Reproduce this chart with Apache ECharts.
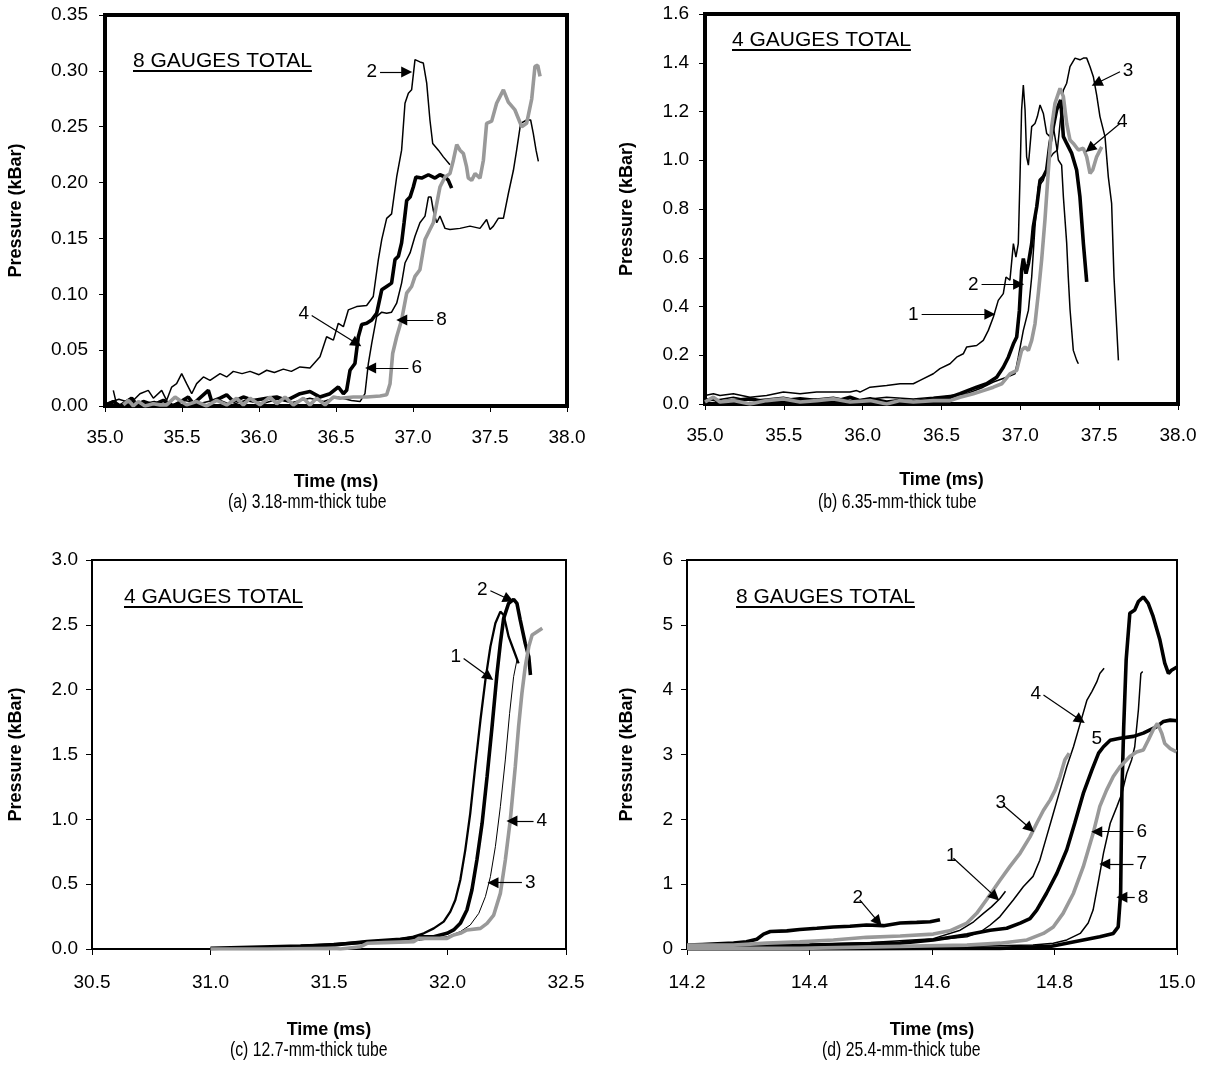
<!DOCTYPE html>
<html>
<head>
<meta charset="utf-8">
<script src="https://cdn.jsdelivr.net/npm/echarts@6/dist/echarts.min.js"></script>
<style>
html,body{margin:0;padding:0;background:#fff}
#chart{width:1207px;height:1076px}
</style>
</head>
<body>
<div id="chart"></div>
<script>
// ---------- pressure traces [time (ms), pressure (kBar)] ----------

// (a) 3.18-mm-thick tube
var tubeA_g2 = [
  [35.054,0.014],[35.076,0.001],[35.162,0.002],[35.227,0.011],[35.281,0.014],[35.314,0.007],[35.368,0.014],[35.40,0.005],
  [35.433,0.017],[35.465,0.020],[35.498,0.029],[35.53,0.020],[35.563,0.011],[35.595,0.020],[35.639,0.026],[35.682,0.023],
  [35.747,0.029],[35.79,0.026],[35.833,0.031],[35.89,0.029],[35.942,0.031],[36.0,0.028],[36.05,0.032],[36.1,0.030],
  [36.158,0.033],[36.21,0.031],[36.266,0.035],[36.331,0.034],[36.396,0.044],[36.439,0.062],[36.483,0.059],[36.515,0.074],
  [36.548,0.071],[36.58,0.086],[36.634,0.089],[36.699,0.090],[36.742,0.098],[36.775,0.131],[36.797,0.149],[36.829,0.168],
  [36.861,0.172],[36.894,0.205],[36.926,0.229],[36.948,0.271],[36.97,0.280],[36.991,0.283],[37.013,0.310],[37.045,0.308],
  [37.067,0.307],[37.089,0.289],[37.11,0.256],[37.128,0.235],[37.165,0.229],[37.197,0.223],[37.24,0.216]
];
var tubeA_g4 = [
  [35.011,0.001],[35.054,0.004],[35.097,0.0],[35.173,0.007],[35.206,0.001],[35.249,0.004],[35.314,0.001],[35.379,0.005],
  [35.444,0.0],[35.541,0.008],[35.574,0.002],[35.671,0.014],[35.693,0.004],[35.747,0.007],[35.79,0.010],[35.833,0.004],
  [35.898,0.008],[35.963,0.005],[36.05,0.007],[36.115,0.008],[36.18,0.005],[36.266,0.011],[36.331,0.013],[36.396,0.008],
  [36.461,0.011],[36.515,0.017],[36.548,0.011],[36.569,0.014],[36.591,0.032],[36.623,0.038],[36.645,0.062],[36.667,0.073],
  [36.699,0.074],[36.732,0.077],[36.764,0.083],[36.797,0.104],[36.829,0.107],[36.861,0.110],[36.883,0.131],[36.905,0.134],
  [36.926,0.146],[36.942,0.164],[36.959,0.184],[36.981,0.187],[37.002,0.196],[37.019,0.205],[37.056,0.204],[37.1,0.207],
  [37.143,0.204],[37.175,0.207],[37.208,0.205],[37.229,0.202],[37.251,0.195]
];
var tubeA_g6 = [
  [35.0,0.002],[35.09,0.006],[35.21,0.001],[35.32,0.004],[35.41,0.0],[35.52,0.005],[35.61,0.002],[35.73,0.006],
  [35.82,0.001],[35.91,0.005],[36.02,0.002],[36.12,0.006],[36.21,0.003],[36.33,0.007],[36.42,0.004],[36.51,0.008],
  [36.6,0.005],[36.656,0.004],[36.688,0.011],[36.71,0.038],[36.732,0.056],[36.764,0.080],[36.797,0.084],[36.829,0.083],
  [36.861,0.084],[36.894,0.092],[36.926,0.110],[36.948,0.128],[36.981,0.137],[37.013,0.152],[37.045,0.164],[37.078,0.170],
  [37.1,0.187],[37.117,0.187],[37.132,0.175],[37.154,0.164],[37.175,0.170],[37.208,0.159],[37.24,0.158],[37.305,0.159],
  [37.37,0.161],[37.435,0.159],[37.478,0.167],[37.5,0.158],[37.522,0.161],[37.554,0.168],[37.587,0.168],[37.619,0.190],
  [37.652,0.211],[37.673,0.229],[37.699,0.253],[37.738,0.256],[37.764,0.256],[37.781,0.244],[37.799,0.229],[37.814,0.219]
];
var tubeA_g8 = [
  [35.119,0.001],[35.152,0.005],[35.184,0.0],[35.216,0.004],[35.26,0.0],[35.314,0.002],[35.357,0.001],[35.4,0.001],
  [35.455,0.008],[35.487,0.005],[35.53,0.001],[35.595,0.004],[35.66,0.0],[35.725,0.005],[35.79,0.001],[35.855,0.007],
  [35.898,0.001],[35.942,0.007],[36.006,0.001],[36.071,0.008],[36.115,0.002],[36.169,0.008],[36.223,0.001],[36.288,0.007],
  [36.331,0.001],[36.374,0.007],[36.429,0.001],[36.483,0.008],[36.526,0.007],[36.613,0.008],[36.699,0.008],[36.786,0.009],
  [36.829,0.010],[36.851,0.020],[36.868,0.047],[36.894,0.062],[36.926,0.077],[36.959,0.101],[36.991,0.107],[37.013,0.116],
  [37.045,0.122],[37.078,0.149],[37.11,0.158],[37.132,0.164],[37.154,0.181],[37.175,0.196],[37.208,0.205],[37.24,0.208],
  [37.262,0.220],[37.284,0.234],[37.305,0.229],[37.327,0.226],[37.348,0.214],[37.359,0.204],[37.381,0.202],[37.403,0.208],
  [37.435,0.204],[37.457,0.220],[37.478,0.253],[37.511,0.255],[37.543,0.271],[37.587,0.283],[37.619,0.272],[37.662,0.265],
  [37.706,0.250],[37.738,0.253],[37.771,0.275],[37.792,0.304],[37.81,0.305],[37.825,0.295]
];

// (b) 6.35-mm-thick tube
var tubeB_g1 = [
  [35.0,0.035],[35.053,0.042],[35.095,0.035],[35.18,0.042],[35.285,0.028],[35.391,0.035],[35.497,0.049],[35.603,0.042],
  [35.708,0.049],[35.814,0.049],[35.92,0.049],[35.962,0.055],[35.983,0.049],[36.047,0.069],[36.152,0.076],[36.237,0.083],
  [36.321,0.083],[36.364,0.097],[36.448,0.124],[36.49,0.145],[36.554,0.165],[36.596,0.192],[36.638,0.206],[36.66,0.234],
  [36.723,0.24],[36.765,0.261],[36.797,0.302],[36.829,0.357],[36.86,0.425],[36.892,0.453],[36.909,0.521],[36.934,0.508],
  [36.956,0.658],[36.972,0.603],[36.987,0.658],[36.998,0.932],[37.008,1.206],[37.019,1.309],[37.03,1.206],[37.04,1.014],
  [37.051,0.98],[37.072,1.138],[37.093,1.151],[37.108,1.179],[37.125,1.227],[37.146,1.192],[37.167,1.11],[37.188,1.097],
  [37.209,1.138],[37.23,1.055],[37.241,1.001],[37.262,0.98],[37.273,0.85],[37.294,0.66],[37.304,0.521],[37.315,0.39],
  [37.336,0.22],[37.357,0.18],[37.368,0.165]
];
var tubeB_g2 = [
  [35.0,0.014],[35.053,0.021],[35.095,0.008],[35.18,0.014],[35.285,0.021],[35.391,0.008],[35.497,0.014],[35.603,0.021],
  [35.708,0.014],[35.814,0.008],[35.92,0.028],[35.983,0.014],[36.047,0.021],[36.152,0.008],[36.237,0.014],[36.321,0.008],
  [36.448,0.021],[36.554,0.028],[36.617,0.042],[36.723,0.069],[36.786,0.083],[36.85,0.11],[36.892,0.151],[36.924,0.192],
  [36.956,0.247],[36.977,0.275],[36.994,0.384],[37.008,0.549],[37.019,0.597],[37.036,0.535],[37.051,0.576],[37.072,0.658],
  [37.082,0.727],[37.104,0.809],[37.125,0.918],[37.146,0.932],[37.167,0.96],[37.188,1.069],[37.209,1.138],[37.23,1.206],
  [37.256,1.247],[37.273,1.097],[37.294,1.069],[37.326,1.028],[37.357,0.96],[37.378,0.85],[37.4,0.658],[37.421,0.501]
];
var tubeB_g3 = [
  [35.0,0.021],[35.053,0.014],[35.18,0.028],[35.285,0.014],[35.391,0.021],[35.497,0.028],[35.603,0.014],[35.708,0.021],
  [35.814,0.028],[35.92,0.014],[36.047,0.021],[36.152,0.028],[36.321,0.021],[36.448,0.028],[36.554,0.035],[36.66,0.042],
  [36.765,0.069],[36.829,0.09],[36.913,0.11],[36.966,0.124],[36.987,0.192],[37.019,0.302],[37.051,0.384],[37.072,0.521],
  [37.093,0.727],[37.114,0.891],[37.146,0.918],[37.178,1.001],[37.209,1.028],[37.235,1.042],[37.252,1.151],[37.273,1.288],
  [37.294,1.316],[37.315,1.384],[37.347,1.419],[37.378,1.412],[37.4,1.419],[37.421,1.419],[37.442,1.384],[37.463,1.343],
  [37.484,1.268],[37.505,1.179],[37.537,1.097],[37.558,0.932],[37.579,0.823],[37.594,0.521],[37.611,0.316],[37.622,0.179]
];
var tubeB_g4 = [
  [35.0,0.008],[35.053,0.028],[35.095,0.008],[35.18,0.014],[35.285,0.0],[35.391,0.014],[35.497,0.021],[35.603,0.008],
  [35.708,0.014],[35.814,0.021],[35.92,0.008],[36.047,0.014],[36.152,0.0],[36.237,0.014],[36.321,0.008],[36.448,0.014],
  [36.554,0.014],[36.617,0.028],[36.702,0.042],[36.765,0.055],[36.829,0.069],[36.882,0.083],[36.934,0.124],[36.977,0.138],
  [37.008,0.22],[37.03,0.234],[37.051,0.22],[37.072,0.261],[37.093,0.329],[37.114,0.453],[37.135,0.59],[37.156,0.754],
  [37.178,0.96],[37.199,1.138],[37.22,1.234],[37.252,1.295],[37.273,1.261],[37.294,1.151],[37.315,1.083],[37.336,1.069],
  [37.368,1.042],[37.4,1.049],[37.421,1.014],[37.442,0.946],[37.459,0.96],[37.484,1.014],[37.516,1.055]
];

// (c) 12.7-mm-thick tube
var tubeC_g1 = [
  [31.0,0.005],[31.239,0.013],[31.38,0.023],[31.52,0.039],[31.661,0.057],[31.801,0.075],[31.857,0.095],[31.9,0.121],
  [31.942,0.159],[31.984,0.211],[32.012,0.288],[32.033,0.378],[32.054,0.532],[32.075,0.763],[32.096,1.046],[32.117,1.406],
  [32.139,1.766],[32.16,2.075],[32.181,2.332],[32.202,2.512],[32.223,2.602],[32.237,2.576],[32.258,2.409],[32.279,2.306],
  [32.3,2.203]
];
var tubeC_g2 = [
  [31.0,0.005],[31.38,0.023],[31.52,0.031],[31.661,0.057],[31.801,0.075],[31.886,0.095],[31.942,0.095],[31.998,0.121],
  [32.026,0.147],[32.054,0.198],[32.082,0.301],[32.103,0.455],[32.124,0.686],[32.146,0.969],[32.167,1.329],[32.188,1.715],
  [32.209,2.126],[32.223,2.357],[32.237,2.55],[32.258,2.666],[32.279,2.697],[32.293,2.666],[32.307,2.537],[32.328,2.357],
  [32.343,2.254],[32.35,2.113]
];
var tubeC_g3 = [
  [31.0,0.0],[31.38,0.013],[31.661,0.044],[31.886,0.069],[31.998,0.095],[32.054,0.134],[32.096,0.185],[32.132,0.275],
  [32.16,0.404],[32.181,0.558],[32.202,0.789],[32.223,1.098],[32.244,1.458],[32.262,1.817],[32.279,2.1],[32.293,2.229]
];
var tubeC_g4 = [
  [31.0,0.0],[31.239,0.0],[31.52,0.005],[31.548,0.0],[31.633,0.018],[31.661,0.044],[31.731,0.049],[31.857,0.057],
  [31.879,0.082],[31.942,0.082],[31.998,0.082],[32.026,0.108],[32.054,0.121],[32.082,0.147],[32.139,0.159],[32.167,0.198],
  [32.195,0.262],[32.223,0.429],[32.244,0.686],[32.265,0.995],[32.286,1.406],[32.3,1.715],[32.314,1.972],[32.328,2.177],
  [32.343,2.332],[32.357,2.422],[32.378,2.447],[32.4,2.473]
];

// (d) 25.4-mm-thick tube
var tubeD_g1 = [
  [14.2,0.04],[14.3,0.05],[14.4,0.07],[14.5,0.1],[14.602,0.16],[14.646,0.29],[14.668,0.42],[14.684,0.55],
  [14.697,0.65],[14.711,0.78],[14.72,0.89]
];
var tubeD_g2 = [
  [14.2,0.06],[14.225,0.07],[14.25,0.08],[14.276,0.09],[14.297,0.11],[14.314,0.15],[14.325,0.23],[14.336,0.27],
  [14.363,0.28],[14.384,0.30],[14.412,0.32],[14.439,0.34],[14.466,0.35],[14.493,0.37],[14.521,0.36],[14.548,0.40],
  [14.575,0.41],[14.597,0.42],[14.613,0.45]
];
var tubeD_g3 = [
  [14.2,0.06],[14.276,0.06],[14.33,0.09],[14.384,0.11],[14.439,0.14],[14.493,0.18],[14.548,0.2],[14.602,0.23],
  [14.629,0.28],[14.657,0.40],[14.673,0.55],[14.689,0.76],[14.7,0.91],[14.711,1.06],[14.727,1.27],[14.744,1.48],
  [14.76,1.73],[14.771,1.94],[14.782,2.14],[14.793,2.30],[14.801,2.45],[14.809,2.66],[14.817,2.92],[14.824,3.02]
];
var tubeD_g4 = [
  [14.2,0.03],[14.35,0.04],[14.548,0.09],[14.657,0.19],[14.68,0.27],[14.695,0.37],[14.711,0.5],[14.733,0.76],
  [14.749,0.96],[14.765,1.12],[14.776,1.37],[14.787,1.73],[14.798,2.09],[14.809,2.45],[14.82,2.81],[14.831,3.12],
  [14.842,3.48],[14.853,3.84],[14.861,3.97],[14.869,4.12],[14.874,4.25],[14.881,4.33]
];
var tubeD_g5 = [
  [14.2,0.04],[14.3,0.05],[14.4,0.06],[14.548,0.09],[14.602,0.14],[14.657,0.22],[14.695,0.29],[14.722,0.32],
  [14.744,0.4],[14.76,0.47],[14.771,0.6],[14.787,0.86],[14.804,1.17],[14.82,1.53],[14.833,1.94],[14.847,2.4],
  [14.861,2.76],[14.872,3.02],[14.88,3.12],[14.891,3.22],[14.907,3.25],[14.929,3.28],[14.945,3.33],[14.956,3.38],
  [14.967,3.43],[14.978,3.51],[14.989,3.53],[15.0,3.52]
];
var tubeD_g6 = [
  [14.2,0.01],[14.384,0.01],[14.548,0.04],[14.657,0.06],[14.711,0.09],[14.755,0.14],[14.782,0.24],[14.798,0.34],
  [14.814,0.55],[14.831,0.86],[14.847,1.27],[14.863,1.78],[14.874,2.2],[14.885,2.45],[14.896,2.66],[14.907,2.81],
  [14.923,2.97],[14.934,3.04],[14.945,3.07],[14.953,3.22],[14.961,3.38],[14.968,3.48],[14.975,3.33],[14.98,3.17],
  [14.989,3.09],[14.999,3.04]
];
var tubeD_g7 = [
  [14.2,0.0],[14.4,0.01],[14.6,0.03],[14.765,0.06],[14.798,0.09],[14.82,0.14],[14.842,0.24],[14.855,0.4],
  [14.863,0.6],[14.872,1.06],[14.88,1.48],[14.891,1.94],[14.902,2.2],[14.91,2.4],[14.918,2.71],[14.926,2.92],
  [14.931,3.12],[14.937,3.69],[14.941,4.25],[14.944,4.28]
];
var tubeD_g8 = [
  [14.2,0.0],[14.4,0.0],[14.602,0.01],[14.711,0.01],[14.793,0.04],[14.82,0.09],[14.847,0.14],[14.874,0.19],
  [14.896,0.24],[14.904,0.34],[14.908,0.86],[14.91,2.4],[14.913,3.43],[14.917,4.46],[14.923,5.18],[14.931,5.23],
  [14.937,5.36],[14.945,5.43],[14.953,5.33],[14.961,5.13],[14.972,4.77],[14.98,4.41],[14.986,4.25],[14.991,4.3],
  [15.0,4.35]
];

// ---------- gauge call-outs: [label, arrow tail, arrow head] ----------
var notesA = [['2',[36.786,0.299],[36.959,0.299]], ['4',[36.342,0.081],[36.634,0.056]],
              ['8',[37.132,0.077],[36.927,0.077]], ['6',[36.97,0.034],[36.725,0.034]]];
var notesB = [['3',[37.632,1.363],[37.484,1.316]], ['4',[37.632,1.151],[37.441,1.048]],
              ['2',[36.754,0.491],[36.989,0.491]], ['1',[36.374,0.368],[36.807,0.368]]];
var notesC = [['2',[32.181,2.763],[32.258,2.697]], ['1',[32.068,2.241],[32.174,2.1]],
              ['4',[32.363,0.987],[32.272,0.987]], ['3',[32.314,0.511],[32.192,0.511]]];
var notesD = [['2',[14.482,0.756],[14.512,0.421]], ['1',[14.635,1.399],[14.703,0.807]],
              ['3',[14.716,2.221],[14.76,1.862]], ['4',[14.782,3.918],[14.842,3.532]],
              ['6',[14.929,1.81],[14.869,1.81]], ['7',[14.929,1.311],[14.882,1.311]],
              ['8',[14.931,0.797],[14.91,0.797]]];
var plainLabelsD = [['5',[14.869,3.25]]];

// ---------- axis ranges and captions ----------
var xRanges = [[35.0,38.0,0.5,1],[35.0,38.0,0.5,1],[30.5,32.5,0.5,1],[14.2,15.0,0.2,1]];
var yRanges = [[0,0.35,0.05,2],[0,1.6,0.2,1],[0,3.0,0.5,1],[0,6,1,0]];
var captions = ['(a) 3.18-mm-thick tube','(b) 6.35-mm-thick tube','(c) 12.7-mm-thick tube','(d) 25.4-mm-thick tube'];
var gaugeTotals = ['8 GAUGES TOTAL','4 GAUGES TOTAL','4 GAUGES TOTAL','8 GAUGES TOTAL'];

// ---------- layout ----------
var FONT = "'Liberation Sans', Arial, Helvetica, sans-serif";
var panels = [
  {left:105, top:15,  width:462, height:391, border:4, yLab:17, xLab:22, yGap:80, xGap:67, capX:228, capY:502, totalX:133, totalY:61},
  {left:705, top:14,  width:473, height:390, border:4, yLab:16, xLab:22, yGap:69, xGap:67, capX:818, capY:502, totalX:732, totalY:40},
  {left:92,  top:560, width:474, height:389, border:2, yLab:14, xLab:24, yGap:67, xGap:72, capX:230, capY:1050, totalX:124, totalY:597},
  {left:687, top:560, width:490, height:389, border:2, yLab:14, xLab:24, yGap:51, xGap:72, capX:822, capY:1050, totalX:736, totalY:597}
];

var THIN = {color:'#000', width:1.5};
var MEDIUM = {color:'#000', width:2.3};
var HAIR = {color:'#000', width:1};
var THICK = {color:'#000', width:3.6};
var GRAY = {color:'#999999', width:3.6};

function trace(p, data, style, z) {
  return {type:'line', xAxisIndex:p, yAxisIndex:p, data:data, symbol:'none', showSymbol:false,
          lineStyle:{color:style.color, width:style.width}, itemStyle:{color:style.color},
          z: z || 2, silent:true, clip:true};
}

function callouts(notes) {
  return {
    silent:true, symbol:['none','triangle'], symbolSize:11, precision:3,
    itemStyle:{color:'#000'},
    lineStyle:{color:'#000', width:1.2, type:'solid'},
    label:{show:true, position:'start', formatter:'{b}', color:'#000', fontSize:19, fontFamily:FONT, distance:3},
    emphasis:{disabled:true},
    data: notes.map(function(n){ return [{name:n[0], coord:n[1]}, {coord:n[2]}]; })
  };
}

var series = [
  trace(0, tubeA_g2, THIN), trace(0, tubeA_g6, THIN), trace(0, tubeA_g4, THICK, 3), trace(0, tubeA_g8, GRAY, 4),
  trace(1, tubeB_g1, THIN), trace(1, tubeB_g3, THIN), trace(1, tubeB_g2, THICK, 3), trace(1, tubeB_g4, GRAY, 4),
  trace(2, tubeC_g1, MEDIUM), trace(2, tubeC_g3, HAIR), trace(2, tubeC_g2, THICK, 3), trace(2, tubeC_g4, GRAY, 4),
  trace(3, tubeD_g1, THIN), trace(3, tubeD_g4, THIN), trace(3, tubeD_g7, THIN),
  trace(3, tubeD_g2, THICK, 3), trace(3, tubeD_g5, THICK, 3), trace(3, tubeD_g8, THICK, 3),
  trace(3, tubeD_g3, GRAY, 4), trace(3, tubeD_g6, GRAY, 4)
];
series[0].markLine = callouts(notesA);
series[4].markLine = callouts(notesB);
series[8].markLine = callouts(notesC);
series[12].markLine = callouts(notesD);
series[12].markPoint = {
  silent:true, symbol:'circle', symbolSize:1, itemStyle:{color:'rgba(0,0,0,0)'},
  label:{show:true, position:'inside', formatter:'{b}', color:'#000', fontSize:19, fontFamily:FONT},
  data: plainLabelsD.map(function(l){ return {name:l[0], coord:l[1]}; })
};

var grids = [], xAxes = [], yAxes = [], graphics = [];
var measure = document.createElement('canvas').getContext('2d');
panels.forEach(function(pn, i){
  grids.push({left:pn.left, top:pn.top, width:pn.width, height:pn.height, show:true,
              borderColor:'#000', borderWidth:pn.border, backgroundColor:'#fff', containLabel:false});
  var xr = xRanges[i], yr = yRanges[i];
  xAxes.push({
    gridIndex:i, type:'value', min:xr[0], max:xr[1], interval:xr[2],
    axisLine:{show:false}, splitLine:{show:false},
    axisTick:{show:true, inside:false, length:6, lineStyle:{color:'#000', width:1}},
    axisLabel:{color:'#000', fontSize:19, fontFamily:FONT, margin:pn.xLab, hideOverlap:false,
               showMinLabel:true, showMaxLabel:true,
               formatter:function(v){ return v.toFixed(xr[3]); }},
    name:'Time (ms)', nameLocation:'middle', nameGap:pn.xGap,
    nameTextStyle:{color:'#000', fontSize:18, fontWeight:'bold', fontFamily:FONT}
  });
  yAxes.push({
    gridIndex:i, type:'value', min:yr[0], max:yr[1], interval:yr[2],
    axisLine:{show:false}, splitLine:{show:false},
    axisTick:{show:true, inside:false, length:6, lineStyle:{color:'#000', width:1}},
    axisLabel:{color:'#000', fontSize:19, fontFamily:FONT, margin:pn.yLab, hideOverlap:false,
               showMinLabel:true, showMaxLabel:true,
               formatter:function(v){ return v.toFixed(yr[3]); }},
    name:'Pressure (kBar)', nameLocation:'middle', nameGap:pn.yGap, nameRotate:90,
    nameTextStyle:{color:'#000', fontSize:18, fontWeight:'bold', fontFamily:FONT}
  });
  // caption in a condensed face: regular sans squeezed horizontally
  graphics.push({type:'text', x:pn.capX, y:pn.capY, scaleX:0.75, scaleY:1, z:10, silent:true,
                 style:{text:captions[i], font:'21px ' + FONT, fill:'#000', align:'left', verticalAlign:'middle'}});
  var font = '21px ' + FONT;
  measure.font = font;
  var w = measure.measureText(gaugeTotals[i]).width;
  graphics.push({type:'text', x:pn.totalX, y:pn.totalY, z:10, silent:true,
                 style:{text:gaugeTotals[i], font:font, fill:'#000', align:'left', verticalAlign:'middle'}});
  graphics.push({type:'line', z:10, silent:true,
                 shape:{x1:pn.totalX, y1:pn.totalY + 10, x2:pn.totalX + w, y2:pn.totalY + 10},
                 style:{stroke:'#000', lineWidth:2}});
});

var chart = echarts.init(document.getElementById('chart'), null, {renderer:'canvas'});
chart.setOption({
  backgroundColor:'#fff',
  animation:false,
  grid:grids,
  xAxis:xAxes,
  yAxis:yAxes,
  series:series,
  graphic:graphics
});
</script>
</body>
</html>
